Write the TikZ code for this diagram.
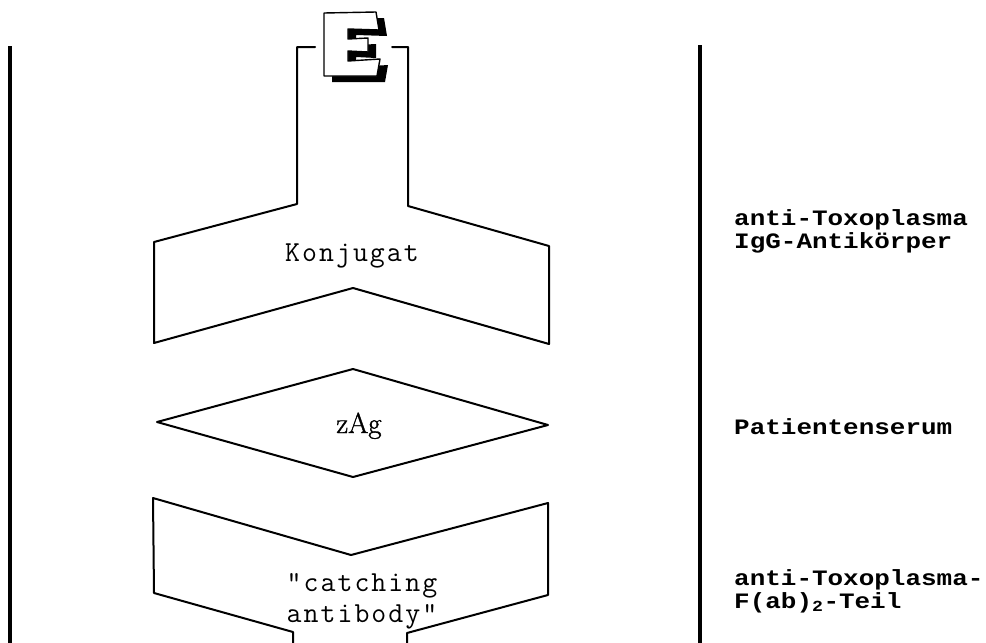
\documentclass[tikz,border=0pt]{standalone}
\usepackage{fontspec}
\newfontfamily\typew{Latin Modern Mono}[LetterSpace=7]
\newfontfamily\schfont{Latin Modern Roman}[FakeBold=1.2]
\newfontfamily\sidefont{Liberation Mono}[FakeStretch=1.18]
\begin{document}
\begin{tikzpicture}[x=1pt,y=-1pt,
  outline/.style={line width=2pt, line join=round, line cap=round},
  bar/.style={line width=4.5pt},
  typed/.style={font=\typew\fontsize{29}{32}\selectfont, inner sep=0pt, anchor=base},
  serifed/.style={font=\schfont\fontsize{29}{29}\selectfont, inner sep=0pt, anchor=base},
  side/.style={font=\sidefont\bfseries\fontsize{22}{22}\selectfont, inner sep=0pt, anchor=base west}]
\useasboundingbox (0,0) rectangle (986,643);

% outer vertical bars
\draw[bar] (10,46) -- (10,643);
\draw[bar] (700,45) -- (700,643);

% enzyme label E with a black drop shadow
\begin{scope}[shift={(324,13)}]
  \fill[black, shift={(8,6)}]
    (0,0) -- (52,-1) -- (55,17) -- (24,16) -- (24,26) -- (44,25) -- (44,39)
    -- (24,38) -- (24,48) -- (56,46) -- (53,63) -- (0,63) -- cycle;
  \filldraw[fill=white, draw=black, line width=1.4pt, line join=round]
    (0,0) -- (52,-1) -- (55,17) -- (24,16) -- (24,26) -- (44,25) -- (44,39)
    -- (24,38) -- (24,48) -- (56,46) -- (53,63) -- (0,63) -- cycle;
\end{scope}

% conjugate: stem with bracket ticks and the Fab arms
\draw[outline] (315,47) -- (297,47) -- (297,204) -- (154,242) -- (154,343)
  -- (353,288) -- (549,344) -- (549,246) -- (408,206) -- (408,47) -- (392,47);
\node[typed] (konj) at (352,261) {Konjugat};

% antigen
\draw[outline] (353,369) -- (548,425) -- (353,477) -- (157,422) -- cycle;
\node[serifed] (zag) at (359,433) {zAg};

% catching antibody, open towards the bottom edge
\draw[outline] (293,643) -- (293,632) -- (154,593) -- (153,498) -- (351,555)
  -- (548,503) -- (548,595) -- (407,633) -- (407,643);
\node[typed] (catch1) at (362,591) {"catching};
\node[typed] (catch2) at (362,622) {antibody"};

% layer descriptions
\node[side] (lab1a) at (734,225) {anti-Toxoplasma};
\node[side] (lab1b) at (734,248) {IgG-Antikörper};
\node[side] (lab2)  at (734,434) {Patientenserum};
\node[side] (lab3a) at (734,585) {anti-Toxoplasma-};
\node[side] (lab3b) at (734,608) {F(ab)\textsubscript{2}-Teil};
\end{tikzpicture}
\end{document}
